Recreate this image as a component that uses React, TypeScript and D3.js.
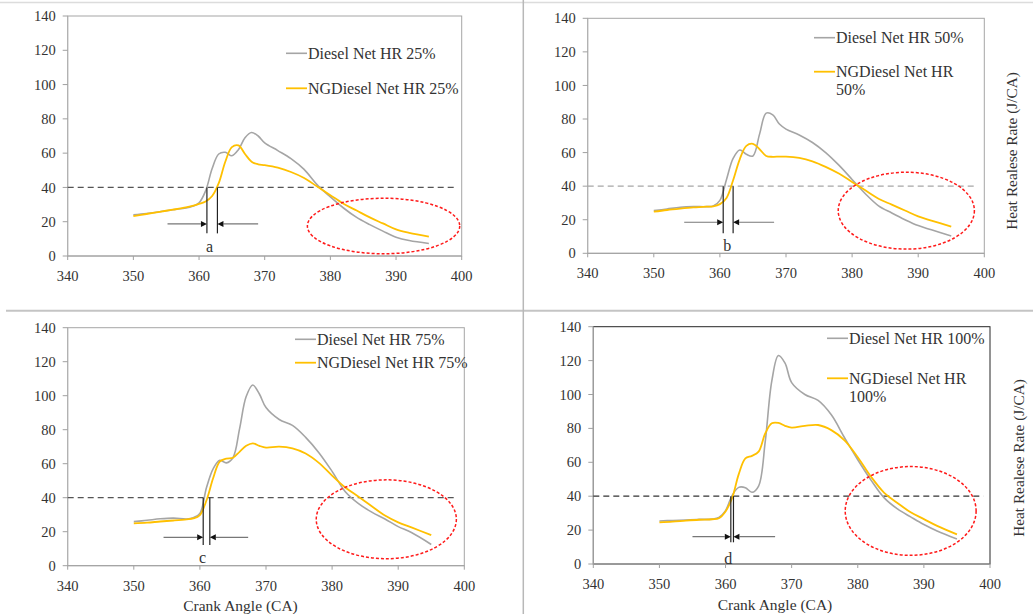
import React from "react";
import * as d3 from "d3";

// crank angle grid shared by all curves
const crankAngles = [350, 352, 354, 356, 358, 359, 360, 361, 362, 363, 364, 365, 366, 367, 368, 369, 370, 372, 374, 376, 378, 380, 382, 384, 386, 388, 390, 392, 395];

const diesel25 = [24, 24.8, 25.8, 27, 28, 29, 31, 38, 51, 59.5, 60.5, 58.5, 62, 69, 72, 70, 66, 61.5, 56.8, 50.5, 41.5, 34.5, 28, 22.5, 18.3, 14.5, 11, 9, 7.3];
const ngDiesel25 = [23.3, 24.5, 25.8, 27, 28.3, 29.2, 30.4, 31.8, 35, 42.5, 55, 63.5, 64.5, 59.5, 55, 53.5, 53, 51.5, 49, 45.5, 40.5, 35.5, 30.5, 26.5, 22.5, 19, 15.5, 13.5, 11.3];

const diesel50 = [25.4, 26.4, 27.4, 27.8, 27.8, 28.2, 31.5, 44, 56.5, 61.5, 59, 58, 71, 83.5, 82.5, 77, 74, 70.5, 66, 60, 52.5, 44, 35.5, 28.3, 24, 20, 16.5, 14, 10.3];
const ngDiesel50 = [24.8, 25.8, 26.6, 27.3, 27.8, 28, 29.3, 33, 43.5, 56, 64, 65.2, 62, 58, 57.5, 57.6, 57.6, 56.8, 54.8, 51.5, 47.5, 42.5, 37.5, 32.5, 29, 25.5, 22, 19.5, 15.9];

const diesel75 = [25.9, 26.7, 27.6, 28, 27.5, 28.2, 30.8, 46, 57, 62, 60.5, 63.5, 80.5, 99.5, 106.3, 101, 93, 86, 82.5, 75.5, 66.5, 55.5, 43.5, 36.5, 31.5, 27.5, 23, 19.5, 12.5];
const ngDiesel75 = [24.9, 25.3, 26, 26.6, 27.3, 27.8, 29.8, 38.5, 51.4, 61.2, 63, 63.5, 67, 70.5, 72, 70.5, 69.5, 70, 69, 66, 60.5, 53, 46, 40.6, 35, 29.5, 25.5, 22.5, 18];

const diesel100 = [25.4, 25.7, 26, 26.3, 26.5, 27.5, 31.5, 40.5, 45.2, 45, 42.3, 46, 72, 108, 123, 118.5, 107, 100, 96.5, 88, 74.5, 61.5, 49.5, 39, 32.5, 27.8, 23.3, 19.5, 14.7];
const ngDiesel100 = [24.6, 25, 25.6, 26.1, 26.4, 27, 31, 39, 53, 62.3, 63.8, 66.3, 77, 83, 83.2, 81.5, 80.5, 81.5, 82, 79, 73, 63, 51.5, 42, 36, 30.5, 26.5, 22.5, 17.5];

const loadLabels = ["25%", "50%", "75%", "100%"];
const xTicks = [340, 350, 360, 370, 380, 390, 400];
const yTicks = [0, 20, 40, 60, 80, 100, 120, 140];

// ignition delay markers
const markLetters = ["a", "b", "c", "d"];
const dieselStart = [361.2, 360.5, 360.5, 360.8];
const ngStart = [362.8, 362.0, 361.5, 361.2];
const markBottom = [13.2, 12, 12.2, 12.8];
const arrowLevel = [18.7, 18.5, 16.7, 16.1];
const arrowFrom = [355.2, 354.6, 354.5, 355];
const arrowTo = [369, 368.2, 367.3, 367.5];
const letterX = [361.6, 361.1, 360.4, 360.4];
const letterY = [5.4, 5, 4.9, 3.3];
const thresholdLevel = 40;

// dashed red ellipses (data units)
const ellipseCx = [388.1, 388.2, 388.2, 388];
const ellipseCy = [17.5, 25.4, 27.3, 31.3];
const ellipseRx = [11.6, 10.3, 10.6, 9.9];
const ellipseRy = [16.2, 22.9, 23.2, 26.2];

const dieselSeries = [diesel25, diesel50, diesel75, diesel100];
const ngSeries = [ngDiesel25, ngDiesel50, ngDiesel75, ngDiesel100];

// layout
const panels = [
  { l: 67.7, r: 461.7, t: 16, b: 256, legX: 286, legY1: 53.3, legY2: 88.3, wrapNG: false, dash: "#555", frame: "#a6a6a6", yTitle: null, xTitle: null },
  { l: 587.7, r: 984.3, t: 18.3, b: 253.3, legX: 814, legY1: 37.7, legY2: 71.7, wrapNG: true, dash: "#a6a6a6", frame: "#a6a6a6", yTitle: [1011.5, 151], xTitle: null },
  { l: 67.7, r: 464.3, t: 327.7, b: 565.7, legX: 295, legY1: 339.3, legY2: 362.7, wrapNG: false, dash: "#555", frame: "#a6a6a6", yTitle: null, xTitle: [240.5, 611] },
  { l: 593.3, r: 990, t: 326.7, b: 564, legX: 827, legY1: 338.3, legY2: 378.3, wrapNG: true, dash: "#333", frame: "#262626", yTitle: [1019, 458], xTitle: [775, 610] },
];

const GREY = "#a5a5a5";
const GOLD = "#ffc000";
const FONT = "Liberation Serif, Times New Roman, serif";
const TXT = "#333";

function Panel({ i }: { i: number }) {
  const p = panels[i];
  const x = d3.scaleLinear().domain([340, 400]).range([p.l, p.r]);
  const y = d3.scaleLinear().domain([0, 140]).range([p.b, p.t]);
  const line = d3
    .line<number>()
    .x((_, k) => x(crankAngles[k]))
    .y((v) => y(v))
    .curve(d3.curveCatmullRom.alpha(0.5));
  const x1 = x(dieselStart[i]);
  const x2 = x(ngStart[i]);
  const ay = y(arrowLevel[i]);
  const head = 6;
  return (
    <g>
      {/* frame */}
      <rect x={p.l} y={p.t} width={p.r - p.l} height={p.b - p.t} fill="none" stroke={p.frame} strokeWidth={1} />
      <line x1={p.l} x2={p.l} y1={p.t} y2={p.b} stroke="#b0b0b0" />
      <line x1={p.l} x2={p.r} y1={p.b} y2={p.b} stroke="#a0a0a0" />
      {yTicks.map((t) => (
        <g key={"y" + t}>
          <line x1={p.l - 5} x2={p.l} y1={y(t)} y2={y(t)} stroke="#a0a0a0" />
          <text x={p.l - 12} y={y(t)} dy="0.35em" textAnchor="end" fontSize={14.5} fontFamily={FONT} fill={TXT}>
            {t}
          </text>
        </g>
      ))}
      {xTicks.map((t) => (
        <g key={"x" + t}>
          <line x1={x(t)} x2={x(t)} y1={p.b} y2={p.b + 4} stroke="#a0a0a0" />
          <text x={x(t)} y={p.b + 25} textAnchor="middle" fontSize={14.5} fontFamily={FONT} fill={TXT}>
            {t}
          </text>
        </g>
      ))}
      {/* threshold */}
      <line x1={x(340)} x2={x(399)} y1={y(thresholdLevel)} y2={y(thresholdLevel)} stroke={p.dash} strokeWidth={1.3} strokeDasharray="6,4" />
      {/* curves */}
      <path d={line(dieselSeries[i]) || ""} fill="none" stroke={GREY} strokeWidth={1.6} />
      <path d={line(ngSeries[i]) || ""} fill="none" stroke={GOLD} strokeWidth={1.8} />
      {/* ignition delay markers */}
      <line x1={x1} x2={x1} y1={y(thresholdLevel)} y2={y(markBottom[i])} stroke="#222" strokeWidth={1.2} />
      <line x1={x2} x2={x2} y1={y(thresholdLevel)} y2={y(markBottom[i])} stroke="#222" strokeWidth={1.2} />
      <line x1={x(arrowFrom[i])} x2={x1 - head} y1={ay} y2={ay} stroke="#777" strokeWidth={1.2} />
      <path d={`M${x1 - head},${ay - 3} L${x1},${ay} L${x1 - head},${ay + 3} Z`} fill="#111" />
      <line x1={x2 + head} x2={x(arrowTo[i])} y1={ay} y2={ay} stroke="#777" strokeWidth={1.2} />
      <path d={`M${x2 + head},${ay - 3} L${x2},${ay} L${x2 + head},${ay + 3} Z`} fill="#111" />
      <text x={x(letterX[i])} y={y(letterY[i])} dy="0.35em" textAnchor="middle" fontSize={16} fontFamily={FONT} fill={TXT}>
        {markLetters[i]}
      </text>
      {/* highlighted region */}
      <ellipse
        cx={x(ellipseCx[i])}
        cy={y(ellipseCy[i])}
        rx={x(ellipseCx[i] + ellipseRx[i]) - x(ellipseCx[i])}
        ry={y(0) - y(ellipseRy[i])}
        fill="none"
        stroke="#ff1a1a"
        strokeWidth={1.5}
        strokeDasharray="3,2"
      />
      {/* legend */}
      <line x1={p.legX} x2={p.legX + 21} y1={p.legY1} y2={p.legY1} stroke={GREY} strokeWidth={1.6} />
      <text x={p.legX + 22} y={p.legY1} dy="0.35em" fontSize={16} fontFamily={FONT} fill={TXT}>
        {"Diesel Net HR " + loadLabels[i]}
      </text>
      <line x1={p.legX} x2={p.legX + 21} y1={p.legY2} y2={p.legY2} stroke={GOLD} strokeWidth={1.8} />
      {p.wrapNG ? (
        <text x={p.legX + 22} y={p.legY2} dy="0.35em" fontSize={16} fontFamily={FONT} fill={TXT}>
          <tspan>NGDiesel Net HR</tspan>
          <tspan x={p.legX + 22} dy={18}>
            {loadLabels[i]}
          </tspan>
        </text>
      ) : (
        <text x={p.legX + 22} y={p.legY2} dy="0.35em" fontSize={16} fontFamily={FONT} fill={TXT}>
          {"NGDiesel Net HR " + loadLabels[i]}
        </text>
      )}
      {p.yTitle && (
        <text
          transform={`translate(${p.yTitle[0]},${p.yTitle[1]}) rotate(-90)`}
          textAnchor="middle"
          dy="0.35em"
          fontSize={15.3}
          fontFamily={FONT}
          fill={TXT}
        >
          Heat Realese Rate (J/CA)
        </text>
      )}
      {p.xTitle && (
        <text x={p.xTitle[0]} y={p.xTitle[1]} textAnchor="middle" fontSize={15.5} fontFamily={FONT} fill={TXT}>
          Crank Angle (CA)
        </text>
      )}
    </g>
  );
}

export default function App() {
  return (
    <svg width={1033} height={614} style={{ position: "absolute", left: 0, top: 0, background: "#fff" }}>
      <rect x={0} y={0} width={1033} height={614} fill="#fff" />
      <line x1={0} x2={1033} y1={2.5} y2={2.5} stroke="#dcdcdc" strokeWidth={1.5} />
      <line x1={6} x2={1033} y1={310.8} y2={310.8} stroke="#c4c4c4" strokeWidth={2} />
      <line x1={523.3} x2={523.3} y1={0} y2={614} stroke="#b8b8b8" strokeWidth={1.5} />
      {panels.map((_, i) => (
        <Panel key={i} i={i} />
      ))}
    </svg>
  );
}
